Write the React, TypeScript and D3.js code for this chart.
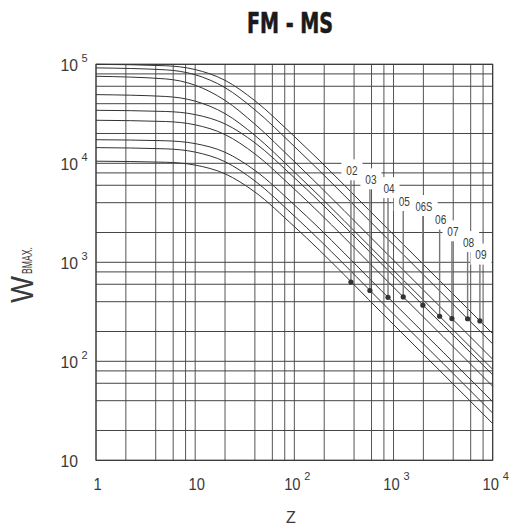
import React from "react";
import * as d3 from "d3";

// ---- data ----
const sizes = ["02", "03", "04", "05", "06S", "06", "07", "08", "09"];
const zSamples = [1, 5, 10, 20, 40, 100, 1000, 10000];
const w02 = [10500, 10250, 9590, 7830, 5130, 2295, 235, 23.5];
const w03 = [14400, 14000, 12980, 10380, 6640, 2930, 300, 30];
const w04 = [17300, 16890, 15810, 12930, 8480, 3800, 390, 39];
const w05 = [27200, 26430, 24470, 19510, 12450, 5490, 560, 56];
const w06S = [34300, 33390, 31050, 25000, 16120, 7145, 730, 73];
const w06 = [49400, 47340, 42450, 31770, 19130, 8185, 830, 83];
const w07 = [75700, 71230, 61460, 43200, 24850, 10420, 1050, 105];
const w08 = [92000, 87950, 78430, 58120, 34720, 14800, 1500, 150];
const w09 = [100000, 96710, 88500, 68880, 42910, 18670, 1900, 190];
const curveValues = [w02, w03, w04, w05, w06S, w06, w07, w08, w09];

const dotZ = [372, 578, 880, 1253, 1977, 2917, 3881, 5585, 7430];
const dotW = [632, 519, 443, 447, 369, 285, 270, 269, 256];
const labelW = [8490, 6890, 5620, 4160, 3700, 2700, 2055, 1600, 1196];

const gridMultipliers = [1, 2, 4, 6, 8];
const xDecades = [1, 10, 100, 1000, 10000];
const yDecades = [10, 100, 1000, 10000, 100000];
const xTickBase = ["1", "10", "10", "10", "10"];
const xTickExp = ["", "", "2", "3", "4"];
const yTickBase = ["10", "10", "10", "10", "10"];
const yTickExp = ["", "2", "3", "4", "5"];

const title = "FM - MS";
const xTitle = "Z";
const yTitleMain = "W";
const yTitleSub = "BMAX.";

const W = 509;
const H = 530;
const condensedBold = "'DejaVu Sans Condensed', 'DejaVu Sans', sans-serif";
const sans = "'Liberation Sans', Arial, sans-serif";

export default function App() {
  const x = d3.scaleLog().domain([1, 10000]).range([96, 492.7]);
  const y = d3.scaleLog().domain([10, 100000]).range([460.3, 64.3]);

  const xGrid: number[] = [];
  xDecades.slice(0, -1).forEach((d) => gridMultipliers.forEach((m) => xGrid.push(d * m)));
  xGrid.push(xDecades[xDecades.length - 1]);
  const yGrid: number[] = [];
  yDecades.slice(0, -1).forEach((d) => gridMultipliers.forEach((m) => yGrid.push(d * m)));
  yGrid.push(yDecades[yDecades.length - 1]);

  const line = d3
    .line<[number, number]>()
    .x((p) => x(p[0]))
    .y((p) => y(p[1]))
    .curve(d3.curveMonotoneX);

  const ink = "#333";
  const txt = "#3a3a3a";

  return (
    <svg
      width={W}
      height={H}
      style={{ position: "absolute", left: 0, top: 0, background: "#fff" }}
    >
      <rect x={0} y={0} width={W} height={H} fill="#fff" />
      {/* title */}
      <text
        x={290}
        y={33}
        textAnchor="middle"
        fontFamily={condensedBold}
        fontWeight="bold"
        fontSize={29}
        textLength={86}
        lengthAdjust="spacingAndGlyphs"
        fill="#1a1a1a"
        stroke="#1a1a1a"
        strokeWidth={0.6}
      >
        {title}
      </text>

      {/* grid */}
      <g>
        {xGrid.map((v, i) => (
          <line
            key={"xg" + i}
            x1={x(v)}
            x2={x(v)}
            y1={y.range()[1]}
            y2={y.range()[0]}
            stroke="#555"
            strokeWidth={1}
          />
        ))}
        {yGrid.map((v, i) => (
          <line
            key={"yg" + i}
            x1={x.range()[0]}
            x2={x.range()[1]}
            y1={y(v)}
            y2={y(v)}
            stroke="#444"
            strokeWidth={1}
          />
        ))}
        <rect
          x={x.range()[0]}
          y={y.range()[1]}
          width={x.range()[1] - x.range()[0]}
          height={y.range()[0] - y.range()[1]}
          fill="none"
          stroke="#333"
          strokeWidth={1}
        />
      </g>

      {/* curves */}
      <g>
        {curveValues.map((vals, i) => (
          <path
            key={"c" + i}
            d={line(zSamples.map((z, j) => [z, vals[j]] as [number, number])) || ""}
            fill="none"
            stroke={ink}
            strokeWidth={1}
          />
        ))}
      </g>

      {/* labels with white boxes, leaders and dots */}
      <g>
        {sizes.map((s, i) => {
          const cx = x(dotZ[i]) + 1;
          const cy = y(labelW[i]);
          const bw = s.length * 6.5 + 8;
          return (
            <rect key={"l" + i} x={cx - bw / 2} y={cy - 11} width={bw} height={21} fill="#fff" />
          );
        })}
        {sizes.map((s, i) => {
          const dx = x(dotZ[i]);
          const cx = dx + 1;
          const cy = y(labelW[i]);
          return (
            <g key={"m" + i}>
              <text
                x={cx}
                y={cy + 4.5}
                textAnchor="middle"
                fontFamily={sans}
                fontSize={13}
                textLength={s.length * 5.6}
                lengthAdjust="spacingAndGlyphs"
                fill={txt}
              >
                {s}
              </text>
              <line x1={dx} x2={dx} y1={cy + 10} y2={y(dotW[i])} stroke="#777" strokeWidth={1.4} />
              <circle cx={dx} cy={y(dotW[i])} r={2.6} fill="#333" />
            </g>
          );
        })}
      </g>

      {/* x tick labels */}
      <g fontFamily={sans} fill={txt}>
        {xDecades.map((v, i) => {
          const gx = x(v);
          if (!xTickExp[i]) {
            return (
              <text
                key={"xt" + i}
                x={gx + 1.5}
                y={490}
                textAnchor="middle"
                fontSize={17}
                textLength={xTickBase[i].length * 8.2}
                lengthAdjust="spacingAndGlyphs"
              >
                {xTickBase[i]}
              </text>
            );
          }
          const cx = gx - 2;
          return (
            <g key={"xt" + i}>
              <text
                x={cx}
                y={490}
                textAnchor="middle"
                fontSize={17}
                textLength={16.4}
                lengthAdjust="spacingAndGlyphs"
              >
                {xTickBase[i]}
              </text>
              <text x={cx + 12} y={479.5} fontSize={11}>
                {xTickExp[i]}
              </text>
            </g>
          );
        })}
      </g>

      {/* y tick labels */}
      <g fontFamily={sans} fill={txt}>
        {yDecades.map((v, i) => {
          const gy = y(v);
          return (
            <g key={"yt" + i}>
              <text
                x={78}
                y={gy + 7}
                textAnchor="end"
                fontSize={17}
                textLength={17.5}
                lengthAdjust="spacingAndGlyphs"
              >
                {yTickBase[i]}
              </text>
              {yTickExp[i] && (
                <text x={81.5} y={gy - 2} fontSize={11}>
                  {yTickExp[i]}
                </text>
              )}
            </g>
          );
        })}
      </g>

      {/* axis titles */}
      <text x={291} y={523} textAnchor="middle" fontFamily={sans} fontSize={16} fill={txt}>
        {xTitle}
      </text>
      <g transform="translate(33, 303) rotate(-90)" fill={txt}>
        <text
          x={0}
          y={0}
          fontFamily={sans}
          fontSize={31}
          textLength={27}
          lengthAdjust="spacingAndGlyphs"
        >
          {yTitleMain}
        </text>
        <text
          x={29}
          y={-1}
          fontFamily={sans}
          fontSize={14}
          textLength={27}
          lengthAdjust="spacingAndGlyphs"
        >
          {yTitleSub}
        </text>
      </g>
    </svg>
  );
}
